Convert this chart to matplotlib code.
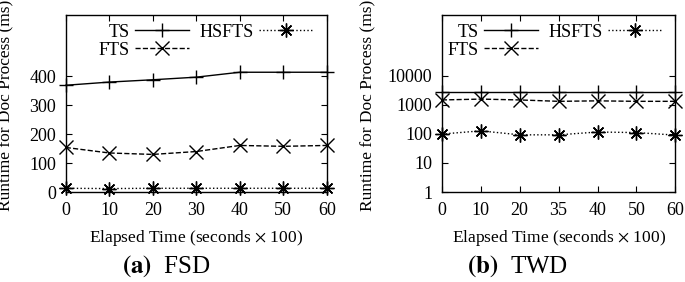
import numpy as np
import matplotlib.pyplot as plt

plt.rcParams['font.family'] = ['Liberation Serif', 'DejaVu Serif']
plt.rcParams['mathtext.fontset'] = 'stix'

# (a) FSD
fsd_x = [0, 10, 20, 30, 40, 50, 60]
fsd_ts = [369, 380, 388, 397, 414, 414, 414]
fsd_fts = [154, 135, 130, 140, 161, 158, 161]
fsd_hsfts = [13, 12, 13, 13, 13, 13, 13]

# (b) TWD  (x labels are evenly spaced categories)
twd_labels = ['0', '10', '20', '35', '40', '50', '60']
twd_ts = [2700, 2700, 2700, 2700, 2700, 2700, 2700]
twd_fts = [1450, 1550, 1450, 1300, 1350, 1300, 1300]
twd_hsfts = [98, 126, 92, 92, 115, 110, 90]

asterisk = (8, 2, 0)
styles = [
    ('TS', '-', '+'),
    ('FTS', '--', 'x'),
    ('HSFTS', ':', asterisk),
]

fig = plt.figure(figsize=(6.85, 2.82), dpi=100)
ax1 = fig.add_axes([0.096, 0.319, 0.381, 0.628])
ax2 = fig.add_axes([0.645, 0.319, 0.341, 0.628])


def draw(ax, x, series, leg_x):
    handles = []
    for (name, ls, mk), y in zip(styles, series):
        h, = ax.plot(x, y, color='black', linestyle=ls, marker=mk, markersize=10,
                     markeredgewidth=1.0, linewidth=1.0, label=name, clip_on=False)
        handles.append(h)
    ax.legend(handles=handles, ncol=2, loc='upper left', frameon=False,
              markerfirst=False, fontsize=13, handlelength=3.0,
              handletextpad=0.3, columnspacing=0.55, labelspacing=0.05,
              borderaxespad=0, borderpad=0, bbox_to_anchor=(leg_x, 0.951))
    ax.tick_params(direction='in', top=True, right=True, labelsize=13,
                   length=4, width=0.8, pad=7)
    ax.set_xlabel('Elapsed Time (seconds $\\times$ 100)', fontsize=12.5, labelpad=7)
    ax.set_ylabel('Runtime for Doc Process (ms)', fontsize=12.5)
    for s in ax.spines.values():
        s.set_linewidth(1.0)


draw(ax1, fsd_x, [fsd_ts, fsd_fts, fsd_hsfts], 0.125)
ax1.set_xlim(0, 60)
ax1.set_xticks(fsd_x)
ax1.set_ylim(0, 612)
ax1.set_yticks([0, 100, 200, 300, 400])
ax1.yaxis.set_label_coords(-0.195, 0.49)

pos = np.arange(len(twd_labels))
draw(ax2, pos, [twd_ts, twd_fts, twd_hsfts], 0.025)
ax2.set_yscale('log')
ax2.set_xlim(0, len(twd_labels) - 1)
ax2.set_xticks(pos)
ax2.set_xticklabels(twd_labels)
ax2.set_ylim(1, 1.2e6)
ax2.set_yticks([1, 10, 100, 1000, 10000])
ax2.set_yticklabels(['1', '10', '100', '1000', '10000'])
ax2.minorticks_off()
ax2.yaxis.set_label_coords(-0.282, 0.49)

fig.text(166 / 685, 0.057, r'$\mathbf{(a)}$  FSD', ha='center', va='center', fontsize=18)
fig.text(518 / 685, 0.057, r'$\mathbf{(b)}$  TWD', ha='center', va='center', fontsize=18)

fig.savefig('out.png', dpi=100)
